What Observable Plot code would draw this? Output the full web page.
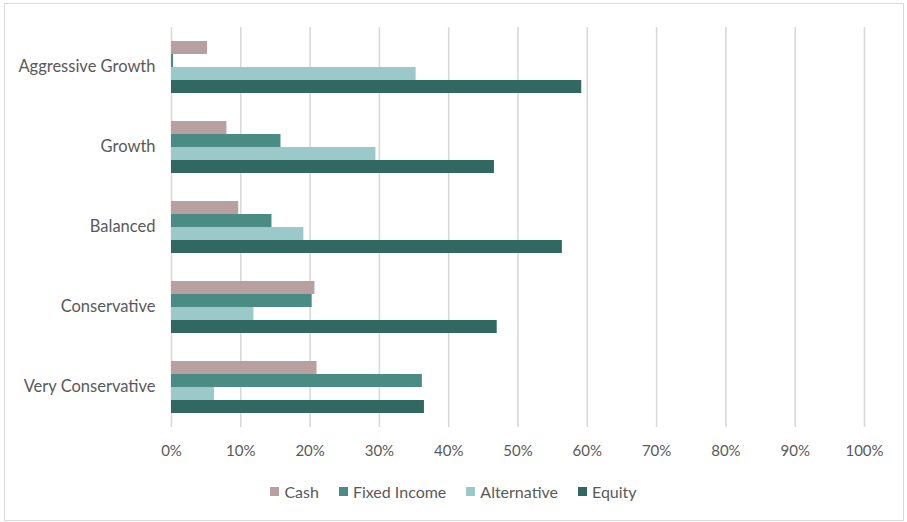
<!DOCTYPE html>
<html><head><meta charset="utf-8">
<script src="https://cdn.jsdelivr.net/npm/d3@7"></script>
<script src="https://cdn.jsdelivr.net/npm/@observablehq/plot@0.6"></script>
<style>
html,body{margin:0;padding:0;background:#fff;}
#wrap{position:relative;width:907px;height:522px;overflow:hidden;font-family:Lato,"Open Sans",sans-serif;}
#frame{position:absolute;left:4px;top:3px;width:900px;height:518px;border:1px solid #d9d9d9;box-sizing:border-box;pointer-events:none;}
#legend{position:absolute;left:0;top:482px;width:907px;display:flex;justify-content:center;gap:20px;font-size:16px;color:#595959;}
#legend span.item{display:flex;align-items:center;}
#legend span.sw{display:inline-block;width:9px;height:9px;margin-right:5px;}
</style></head>
<body><div id="wrap"><div id="chart"></div><div id="legend"></div><div id="frame"></div></div>
<script>
const categories = ["Aggressive Growth","Growth","Balanced","Conservative","Very Conservative"];
const series = ["Cash","Fixed Income","Alternative","Equity"];
const cash = [5.2, 8.0, 9.7, 20.7, 21.0];
const fixedIncome = [0.3, 15.8, 14.5, 20.3, 36.2];
const alternative = [35.3, 29.5, 19.1, 11.9, 6.2];
const equity = [59.2, 46.6, 56.4, 47.0, 36.5];
const colors = ["#b9a0a0","#4a8c84","#9bc8c8","#326862"];
const xTicks = [0,10,20,30,40,50,60,70,80,90,100];

const valuesBySeries = [cash, fixedIncome, alternative, equity];
const data = [];
categories.forEach((c,i)=>series.forEach((s,j)=>data.push({category:c, series:s, value:valuesBySeries[j][i]/100})));
const ticks = xTicks.map(t=>t/100);

const chart = Plot.plot({
  width: 907, height: 522,
  marginTop: 25, marginBottom: 93, marginLeft: 171, marginRight: 43,
  style: {fontFamily: "Lato, 'Open Sans', sans-serif", fontSize: "15px", color: "#595959", background: "transparent"},
  x: {domain: [0,1], ticks: ticks, tickFormat: d3.format(".0%"), tickSize: 0, tickPadding: 18, label: null},
  y: {domain: series, axis: null, paddingInner: 0, paddingOuter: 0.94},
  fy: {domain: categories, axis: null, padding: 0},
  color: {domain: series, range: colors},
  marks: [
    Plot.axisFy({anchor: "left", label: null, tickSize: 0, tickPadding: 16, fontSize: "16.5px", dy: -1}),
    Plot.ruleX(ticks, {stroke: "#d9d9d9", strokeWidth: 1.6}),
    Plot.barX(data, {fy: "category", y: "series", x: "value", fill: "series", inset: 0})
  ]
});
document.getElementById("chart").appendChild(chart);

const legend = document.getElementById("legend");
series.forEach((s,i)=>{
  const it = document.createElement("span"); it.className="item";
  const sw = document.createElement("span"); sw.className="sw"; sw.style.background = colors[i];
  it.appendChild(sw); it.appendChild(document.createTextNode(s));
  legend.appendChild(it);
});
</script></body></html>
